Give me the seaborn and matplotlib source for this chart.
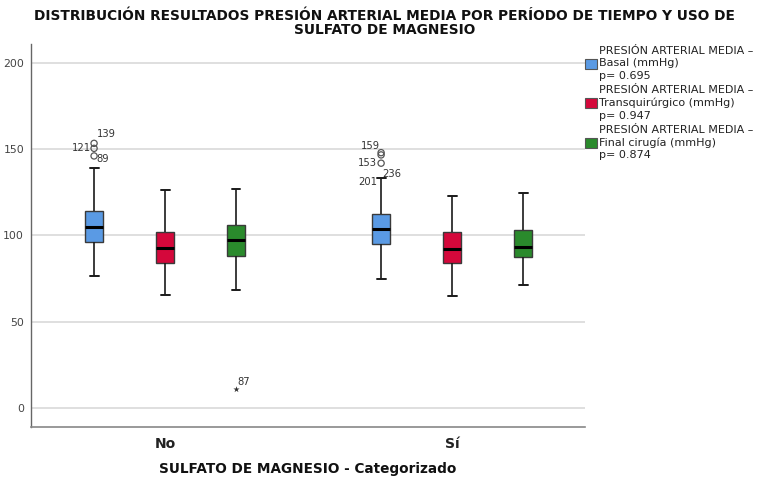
import numpy as np
import pandas as pd
import seaborn as sns
import matplotlib.pyplot as plt
from matplotlib.patches import Patch

# Categories
grupos = ["No", "Sí"]
momentos = ["Basal", "Transquirúrgico", "Final cirugía"]
etiquetas_leyenda = [
    "PRESIÓN ARTERIAL MEDIA –\nBasal (mmHg)\np= 0.695",
    "PRESIÓN ARTERIAL MEDIA –\nTransquirúrgico (mmHg)\np= 0.947",
    "PRESIÓN ARTERIAL MEDIA –\nFinal cirugía (mmHg)\np= 0.874",
]
colores = ["#5A9AE4", "#D4083B", "#2A8A2C"]

# Box summaries (mmHg), order: No-Basal, No-Trans, No-Final, Sí-Basal, Sí-Trans, Sí-Final
box_grupo = ["No", "No", "No", "Sí", "Sí", "Sí"]
box_momento = ["Basal", "Transquirúrgico", "Final cirugía"] * 2
bigote_inf = [76.7, 65.3, 68.2, 74.8, 65.1, 71.1]
cuartil_1 = [96.0, 83.9, 87.9, 94.9, 84.1, 87.7]
mediana = [104.9, 92.9, 97.4, 103.8, 92.4, 93.5]
cuartil_3 = [114.2, 102.2, 105.9, 112.6, 102.2, 103.4]
bigote_sup = [139.0, 126.2, 127.0, 133.2, 123.1, 124.6]

# Atypical cases
atip_grupo = ["No", "No", "No", "No", "Sí", "Sí", "Sí"]
atip_momento = ["Basal", "Basal", "Basal", "Final cirugía", "Basal", "Basal", "Basal"]
atip_valor = [153.4, 150.5, 146.1, 11.1, 148.0, 146.7, 141.9]
atip_caso = ["139", "121", "89", "87", "159", "153", "236"]
atip_extremo = [False, False, False, True, False, False, False]

# Case flagged at the upper whisker of the Sí / Basal box
caso_bigote = "201"

# label placement (offset points, alignment)
desplaz = [(2, 7, "left"), (-2, 0, "right"), (2, -2, "left"), (1, 5, "left"),
           (-1, 5, "right"), (-3, -6, "right"), (1, -8, "left")]

# long table: each box built from its five-number summary
filas = []
for g, m, a, b, c, d, e in zip(box_grupo, box_momento, bigote_inf, cuartil_1,
                               mediana, cuartil_3, bigote_sup):
    for v in (a, b, c, d, e):
        filas.append({"grupo": g, "momento": m, "valor": v})
df = pd.DataFrame(filas)

sns.set_theme(style="white")
plt.rcParams["font.family"] = ["DejaVu Sans"]

fig = plt.figure(figsize=(7.64, 4.83), dpi=100)
ax = fig.add_axes([0.0406, 0.1159, 0.7251, 0.7931])

ANCHO = 0.742
sns.boxplot(
    data=df, x="grupo", y="valor", hue="momento",
    order=grupos, hue_order=momentos, palette=colores,
    width=ANCHO, gap=0.75, whis=(0, 100), linewidth=1.0,
    linecolor="#3a3a3a", saturation=1, legend=False, ax=ax,
    medianprops=dict(color="black", linewidth=2.2),
    whiskerprops=dict(color="#1a1a1a", linewidth=1.2),
    capprops=dict(color="#1a1a1a", linewidth=1.4),
    zorder=3,
)

# atypical markers and case labels
paso = ANCHO / len(momentos)
for g, m, v, caso, ext, (dx, dy, ha) in zip(atip_grupo, atip_momento, atip_valor,
                                             atip_caso, atip_extremo, desplaz):
    x = grupos.index(g) + (momentos.index(m) - 1) * paso
    if ext:
        ax.scatter([x], [v], marker="*", s=22, color="#333333", zorder=4, linewidths=0)
    else:
        ax.scatter([x], [v], marker="o", s=20, facecolors="none",
                   edgecolors="#555555", linewidths=0.9, zorder=4)
    ax.annotate(caso, (x, v), xytext=(dx, dy), textcoords="offset points",
                ha=ha, va="center", fontsize=7.2, color="#333333")

xw = grupos.index("Sí") + (momentos.index("Basal") - 1) * paso
ax.annotate(caso_bigote, (xw, bigote_sup[3]), xytext=(-3, -3), textcoords="offset points",
            ha="right", va="center", fontsize=7.2, color="#333333")

ax.set_xlim(-0.467, 1.463)
ax.set_ylim(-11, 211)
ax.set_yticks([0, 50, 100, 150, 200])
ax.yaxis.grid(True, color="#d9d9d9", linewidth=1.2, zorder=0)
ax.set_axisbelow(True)
ax.tick_params(axis="y", length=0, labelsize=7.8, labelcolor="#444444", pad=5)
ax.tick_params(axis="x", length=0, labelsize=10, pad=7)
for t in ax.get_xticklabels():
    t.set_fontweight("bold")
    t.set_color("#222222")
ax.set_ylabel("")
ax.set_xlabel("SULFATO DE MAGNESIO - Categorizado", fontsize=9.8,
              fontweight="bold", color="#111111", labelpad=8)

for s in ("top", "right"):
    ax.spines[s].set_visible(False)
ax.spines["left"].set_color("#666666")
ax.spines["bottom"].set_color("#888888")
ax.spines["left"].set_linewidth(1.0)
ax.spines["bottom"].set_linewidth(1.2)

fig.suptitle("DISTRIBUCIÓN RESULTADOS PRESIÓN ARTERIAL MEDIA POR PERÍODO DE TIEMPO Y USO DE\n"
             "SULFATO DE MAGNESIO", x=0.503, y=0.982, fontsize=9.9, fontweight="bold",
             linespacing=1.0, color="#111111")

handles = [Patch(facecolor=c, edgecolor="#555555", linewidth=0.8) for c in colores]
leg = fig.legend(handles, etiquetas_leyenda, loc="upper left",
                 bbox_to_anchor=(0.7657, 0.905), frameon=False, fontsize=8.0,
                 handlelength=1.05, handleheight=1.05, handletextpad=0.25,
                 labelspacing=0.35, borderaxespad=0, borderpad=0)
for t in leg.get_texts():
    t.set_linespacing(1.32)
    t.set_color("#222222")

fig.savefig("out.png", dpi=100)
